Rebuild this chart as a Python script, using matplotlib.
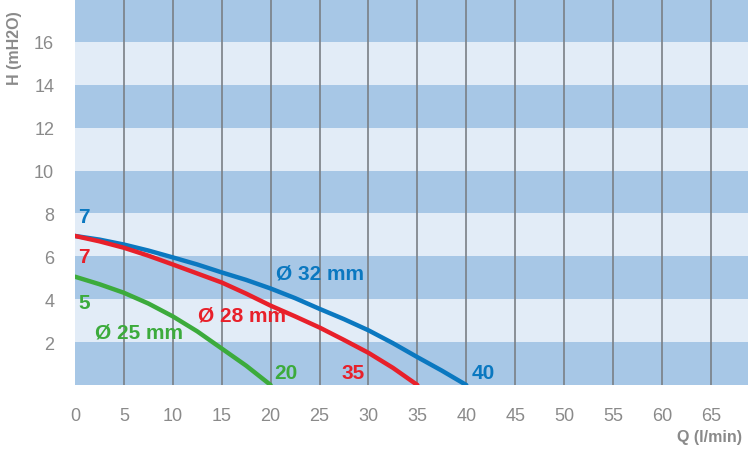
import numpy as np
import matplotlib
matplotlib.use("Agg")
import matplotlib.pyplot as plt

# Pump curves: flow Q (l/min) vs head H (mH2O)
q_32 = [0, 2.5, 5, 7.5, 10, 12.5, 15, 17.5, 20, 22.5, 25, 27.5, 30, 32.5, 35, 37.5, 40]
h_32 = [6.95, 6.78, 6.55, 6.27, 5.95, 5.62, 5.25, 4.9, 4.5, 4.05, 3.55, 3.07, 2.55, 1.95, 1.3, 0.67, 0]

q_28 = [0, 2.5, 5, 7.5, 10, 12.5, 15, 17.5, 20, 22.5, 25, 27.5, 30, 32.5, 35]
h_28 = [6.95, 6.7, 6.4, 6.03, 5.62, 5.2, 4.78, 4.26, 3.7, 3.2, 2.68, 2.1, 1.5, 0.8, 0]

q_25 = [0, 2.5, 5, 7.5, 10, 12.5, 15, 17.5, 20]
h_25 = [5.05, 4.7, 4.3, 3.8, 3.2, 2.5, 1.7, 0.9, 0]

x_ticks = [0, 5, 10, 15, 20, 25, 30, 35, 40, 45, 50, 55, 60, 65]
y_ticks = [2, 4, 6, 8, 10, 12, 14, 16]

BLUE = "#0b78c0"
RED = "#e8202a"
GREEN = "#3cab3c"
DARK_BAND = "#a7c7e6"
LIGHT_BAND = "#e2ecf7"
GREY = "#8a8a8a"

plt.rcParams['font.family'] = ['Liberation Sans Narrow', 'Liberation Sans', 'DejaVu Sans']

fig = plt.figure(figsize=(7.48, 4.52), dpi=100)
ax = fig.add_axes([75 / 748, 66 / 452, 1 - 75 / 748, 1 - 66 / 452])

# alternating horizontal bands
for i, y0 in enumerate(range(0, 18, 2)):
    ax.axhspan(y0, y0 + 2, color=DARK_BAND if i % 2 == 0 else LIGHT_BAND, lw=0, zorder=0)

# vertical grid lines
for xv in x_ticks[1:]:
    ax.axvline(xv, color="#7a7f85", lw=1.2, zorder=1)

ax.plot(q_32, h_32, color=BLUE, lw=3.2, solid_capstyle="round", zorder=3)
ax.plot(q_28, h_28, color=RED, lw=3.2, solid_capstyle="round", zorder=3)
ax.plot(q_25, h_25, color=GREEN, lw=3.2, solid_capstyle="round", zorder=3)

lab = dict(fontsize=15, fontweight="bold", zorder=4)
ax.text(0.3, 7.85, "7", color=BLUE, ha="left", va="center", **lab)
ax.text(0.3, 6.0, "7", color=RED, ha="left", va="center", **lab)
ax.text(0.3, 3.85, "5", color=GREEN, ha="left", va="center", **lab)
ax.text(6.5, 2.45, "Ø 25 mm", color=GREEN, ha="center", va="center", **lab)
ax.text(17.1, 3.25, "Ø 28 mm", color=RED, ha="center", va="center", **lab)
ax.text(25.0, 5.2, "Ø 32 mm", color=BLUE, ha="center", va="center", **lab)
ax.text(21.6, 0.6, "20", color=GREEN, ha="center", va="center", **lab)
ax.text(28.4, 0.6, "35", color=RED, ha="center", va="center", **lab)
ax.text(41.7, 0.6, "40", color=BLUE, ha="center", va="center", **lab)

ax.set_xlim(0, 68.8)
ax.set_ylim(0, 18)
ax.set_xticks(x_ticks)
ax.set_yticks(y_ticks)
ax.tick_params(axis="both", length=0, labelsize=13, labelcolor=GREY)
ax.tick_params(axis="x", pad=16)
ax.tick_params(axis="y", pad=15)
for s in ax.spines.values():
    s.set_visible(False)

fig.text(15 / 748, 1 - 48 / 452, "H (mH2O)", rotation=90, ha="center", va="center",
         fontsize=11.5, fontweight="bold", color=GREY)
fig.text(742 / 748, 1 - 438 / 452, "Q (l/min)", ha="right", va="center",
         fontsize=11.5, fontweight="bold", color=GREY)

fig.savefig("out.png", dpi=100)
